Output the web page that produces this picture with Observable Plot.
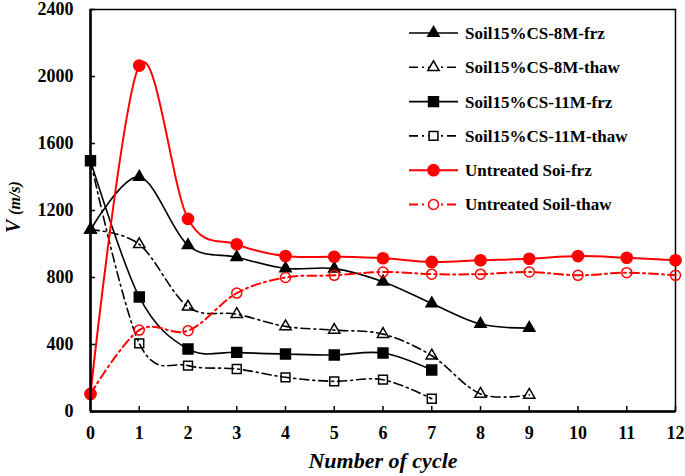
<!DOCTYPE html>
<html>
<head>
<meta charset="utf-8">
<script src="https://cdn.jsdelivr.net/npm/d3@7"></script>
<script src="https://cdn.jsdelivr.net/npm/@observablehq/plot@0.6"></script>
<style>
  html, body { margin: 0; padding: 0; background: white; }
  #chart { position: relative; width: 685px; height: 476px; }
</style>
</head>
<body>
<div id="chart"></div>
<script>
// ---- data ----
const cycles = [0, 1, 2, 3, 4, 5, 6, 7, 8, 9, 10, 11, 12];
const xTicks = [0, 1, 2, 3, 4, 5, 6, 7, 8, 9, 10, 11, 12];
const yTicks = [0, 400, 800, 1200, 1600, 2000, 2400];

const seriesNames = [
  "Soil15%CS-8M-frz",
  "Soil15%CS-8M-thaw",
  "Soil15%CS-11M-frz",
  "Soil15%CS-11M-thaw",
  "Untreated Soi-frz",
  "Untreated Soil-thaw"
];
const cs8Frz   = [1085, 1400, 992, 921, 854, 853, 775, 645, 522, 498];
const cs8Thaw  = [1085, 998, 625, 581, 508, 486, 462, 333, 105, 99];
const cs11Frz  = [1497, 684, 373, 353, 343, 337, 349, 248];
const cs11Thaw = [1497, 407, 274, 254, 204, 180, 190, 76];
const untFrz   = [105, 2065, 1150, 998, 928, 924, 915, 893, 903, 912, 928, 918, 903];
const untThaw  = [105, 486, 482, 707, 800, 813, 833, 820, 820, 833, 813, 829, 813];

const xLabel = "Number of cycle";
const yLabelMain = "V";
const yLabelUnit = "(m/s)";

// ---- styles ----
const FONT = "'Liberation Serif', 'Times New Roman', serif";
const DASHDOT = "9,4,2,4";
const styles = [
  {values: cs8Frz,   color: "#000", dash: null,   symbol: "triangle", fill: "#000",  r: 4.2},
  {values: cs8Thaw,  color: "#000", dash: DASHDOT, symbol: "triangle", fill: "none", r: 4.2},
  {values: cs11Frz,  color: "#000", dash: null,   symbol: "square",   fill: "#000",  r: 5.6},
  {values: cs11Thaw, color: "#000", dash: DASHDOT, symbol: "square",   fill: "none", r: 5.0},
  {values: untFrz,   color: "#ff0000", dash: null,   symbol: "circle", fill: "#ff0000", r: 5.6},
  {values: untThaw,  color: "#ff0000", dash: DASHDOT, symbol: "circle", fill: "none",    r: 5.0}
];

const toRows = (vals) => vals.map((v, i) => ({x: cycles[i], y: v}));

const marks = [];
styles.forEach((s) => {
  const rows = toRows(s.values);
  marks.push(Plot.line(rows, {
    x: "x", y: "y", stroke: s.color, strokeWidth: s.color === "#000" ? 1.6 : 2,
    strokeDasharray: s.dash || undefined, curve: "cardinal", tension: 0
  }));
});
styles.forEach((s) => {
  const rows = toRows(s.values);
  marks.push(Plot.dot(rows, {
    x: "x", y: "y", symbol: s.symbol, r: s.r,
    fill: s.fill, stroke: s.color, strokeWidth: 1.5
  }));
});

const chart = Plot.plot({
  width: 685,
  height: 476,
  marginTop: 9,
  marginRight: 10,
  marginBottom: 65,
  marginLeft: 90,
  x: {domain: [0, 12]},
  y: {domain: [0, 2400]},
  style: {fontFamily: FONT, fontWeight: "bold", fontSize: "18px", color: "black", background: "white", overflow: "visible"},
  marks: [
    Plot.frame({stroke: "#000", strokeWidth: 1.5}),
    ...marks,
    Plot.axisX({ticks: xTicks, tickSize: -5, tickPadding: 20, label: null, tickFormat: d => String(d), fontSize: 18, fontWeight: "bold", strokeWidth: 1.5}),
    Plot.axisY({ticks: yTicks, tickSize: -5, tickPadding: 22, label: null, tickFormat: d => String(d), fontSize: 18, fontWeight: "bold", strokeWidth: 1.5}),
    Plot.ruleX([0], {stroke: "#000", strokeWidth: 2.5}),
    Plot.ruleY([0], {stroke: "#000", strokeWidth: 2.5}),
    Plot.text([xLabel], {text: d => d, frameAnchor: "bottom", dy: 56, fontSize: 22, fontStyle: "italic", fontWeight: "bold"})
  ]
});

document.getElementById("chart").appendChild(chart);

// ---- y-axis title with mixed sizes ----
const svg = d3.select(chart);
const yt = svg.append("text")
  .attr("transform", "translate(20,207) rotate(-90)")
  .attr("text-anchor", "middle")
  .attr("font-family", FONT)
  .attr("font-weight", "bold")
  .attr("font-style", "italic")
  .attr("fill", "#000");
yt.append("tspan").attr("font-size", 20).text(yLabelMain + " ");
yt.append("tspan").attr("font-size", 16).text(yLabelUnit);

// ---- legend (inside the plot, top right) ----
const legend = svg.append("g").attr("transform", "translate(409,33)");
const symMap = {triangle: d3.symbolTriangle, square: d3.symbolSquare, circle: d3.symbolCircle};
styles.forEach((s, i) => {
  const g = legend.append("g").attr("transform", `translate(0,${i * 34.3})`);
  g.append("line").attr("x1", 0).attr("x2", 49).attr("y1", 0).attr("y2", 0)
    .attr("stroke", s.color).attr("stroke-width", s.color === "#000" ? 1.6 : 2)
    .attr("stroke-dasharray", s.dash || null);
  g.append("path")
    .attr("transform", "translate(24.5,0)")
    .attr("d", d3.symbol(symMap[s.symbol], Math.PI * s.r * s.r)())
    .attr("fill", s.fill === "none" ? "white" : s.fill)
    .attr("stroke", s.color).attr("stroke-width", 1.5);
  g.append("text").attr("x", 56).attr("y", 0).attr("dy", "0.35em")
    .attr("text-anchor", "start")
    .attr("font-family", FONT).attr("font-weight", "bold").attr("font-size", 17)
    .attr("fill", "#000").text(seriesNames[i]);
});
</script>
</body>
</html>
